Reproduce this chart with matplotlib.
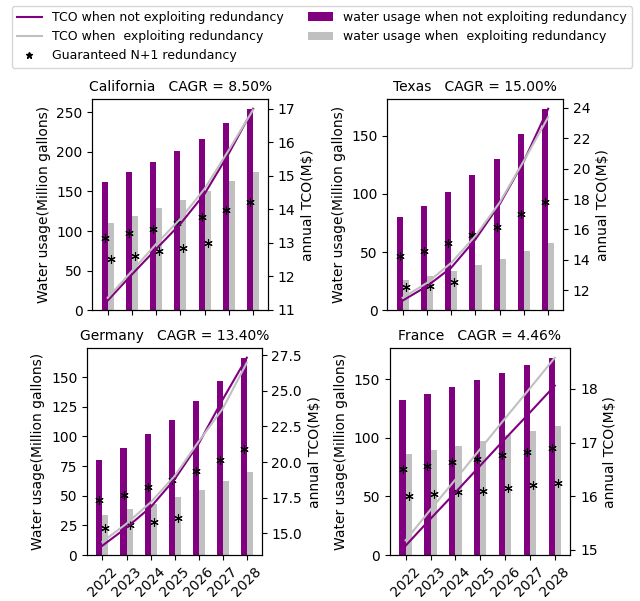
import numpy as np
import matplotlib
matplotlib.use("Agg")
import matplotlib.pyplot as plt
from matplotlib.lines import Line2D
from matplotlib.patches import Patch

years = ["2022", "2023", "2024", "2025", "2026", "2027", "2028"]

regions = ["California", "Texas", "Germany", "France"]
cagr = ["8.50%", "15.00%", "13.40%", "4.46%"]

# water usage (million gallons)
water_no_red = {
    "California": [162, 174, 187, 201, 216, 236, 254],
    "Texas": [80, 90, 102, 116, 130, 152, 173],
    "Germany": [80, 90, 102, 114, 130, 147, 166],
    "France": [132, 137, 143, 149, 155, 162, 168],
}
water_red = {
    "California": [110, 119, 129, 139, 150, 163, 175],
    "Texas": [26, 29, 34, 39, 44, 51, 58],
    "Germany": [34, 39, 43, 49, 55, 62, 70],
    "France": [86, 90, 93, 97, 102, 106, 110],
}

# annual TCO (M$)
tco_no_red = {
    "California": [11.27, 12.05, 12.81, 13.56, 14.46, 15.67, 17.0],
    "Texas": [11.32, 12.26, 13.48, 15.35, 17.66, 20.5, 23.94],
    "Germany": [14.15, 15.41, 16.84, 18.8, 21.3, 24.4, 27.32],
    "France": [15.08, 15.58, 16.07, 16.57, 17.07, 17.56, 18.06],
}
tco_red = {
    "California": [11.35, 12.15, 12.96, 13.71, 14.61, 15.77, 16.97],
    "Texas": [11.5, 12.48, 13.8, 15.57, 17.77, 20.52, 23.39],
    "Germany": [14.42, 15.69, 17.18, 19.03, 21.45, 23.75, 26.97],
    "France": [15.18, 15.75, 16.31, 16.88, 17.45, 18.01, 18.58],
}

# guaranteed N+1 redundancy points (water usage)
n1_no_red = {
    "California": [91, 97, 103, 110, 118, 127, 137],
    "Texas": [47, 51, 58, 65, 72, 83, 93],
    "Germany": [46, 51, 57, 63, 71, 80, 89],
    "France": [73, 76, 79, 82, 85, 88, 91],
}
n1_red = {
    "California": [64.5, 69, 74.5, 79, 85],
    "Texas": [20, 21, 24],
    "Germany": [23, 25, 28, 31],
    "France": [50.5, 52, 53.5, 55, 57.5, 59.5, 61.5],
}

PURPLE = "purple"
GRAY = "silver"
W = 0.25

fig = plt.figure(figsize=(6.4, 6.01), dpi=100)

positions = {
    "California": [0.144, 0.484, 0.275, 0.351],
    "Texas": [0.605, 0.484, 0.275, 0.351],
    "Germany": [0.136, 0.0765, 0.273, 0.344],
    "France": [0.609, 0.0765, 0.282, 0.344],
}

x = np.arange(len(years))
for i, reg in enumerate(regions):
    ax = fig.add_axes(positions[reg])
    ax.bar(x - W / 2, water_no_red[reg], W, color=PURPLE)
    ax.bar(x + W / 2, water_red[reg], W, color=GRAY)
    ax.plot(x - W / 2, n1_no_red[reg], linestyle="none", marker=(6, 2, 0),
            markersize=6, color="black", markeredgewidth=0.8)
    nr = len(n1_red[reg])
    ax.plot(x[:nr] + W / 2, n1_red[reg], linestyle="none", marker=(6, 2, 0),
            markersize=6, color="black", markeredgewidth=0.8)
    ax.set_ylabel("Water usage(Million gallons)")
    ax.set_title(f"{reg}   CAGR = {cagr[i]}", fontsize=10)
    ax.set_xticks(x)
    if i >= 2:
        ax.set_xticklabels(years, rotation=45)
    else:
        ax.set_xticklabels([])

    ax2 = ax.twinx()
    ax2.plot(x, tco_no_red[reg], color=PURPLE, linewidth=1.5)
    ax2.plot(x, tco_red[reg], color=GRAY, linewidth=1.5)
    ax2.set_ylabel("annual TCO(M$)")
    ax.set_xlim(-0.64, 6.62)
    ax2.set_xlim(-0.64, 6.62)

handles = [
    Line2D([], [], color=PURPLE, linewidth=1.5),
    Line2D([], [], color=GRAY, linewidth=1.5),
    Line2D([], [], color="black", marker="*", linestyle="none", markersize=5),
    Patch(facecolor=PURPLE),
    Patch(facecolor=GRAY),
]
labels = [
    "TCO when not exploiting redundancy",
    "TCO when  exploiting redundancy",
    "Guaranteed N+1 redundancy",
    "water usage when not exploiting redundancy",
    "water usage when  exploiting redundancy",
]
fig.legend(handles, labels, ncol=2, loc="upper left",
           bbox_to_anchor=(11.7 / 640, 1 - 6 / 601), borderaxespad=0,
           fontsize=9)

fig.savefig("out.png", dpi=100)
